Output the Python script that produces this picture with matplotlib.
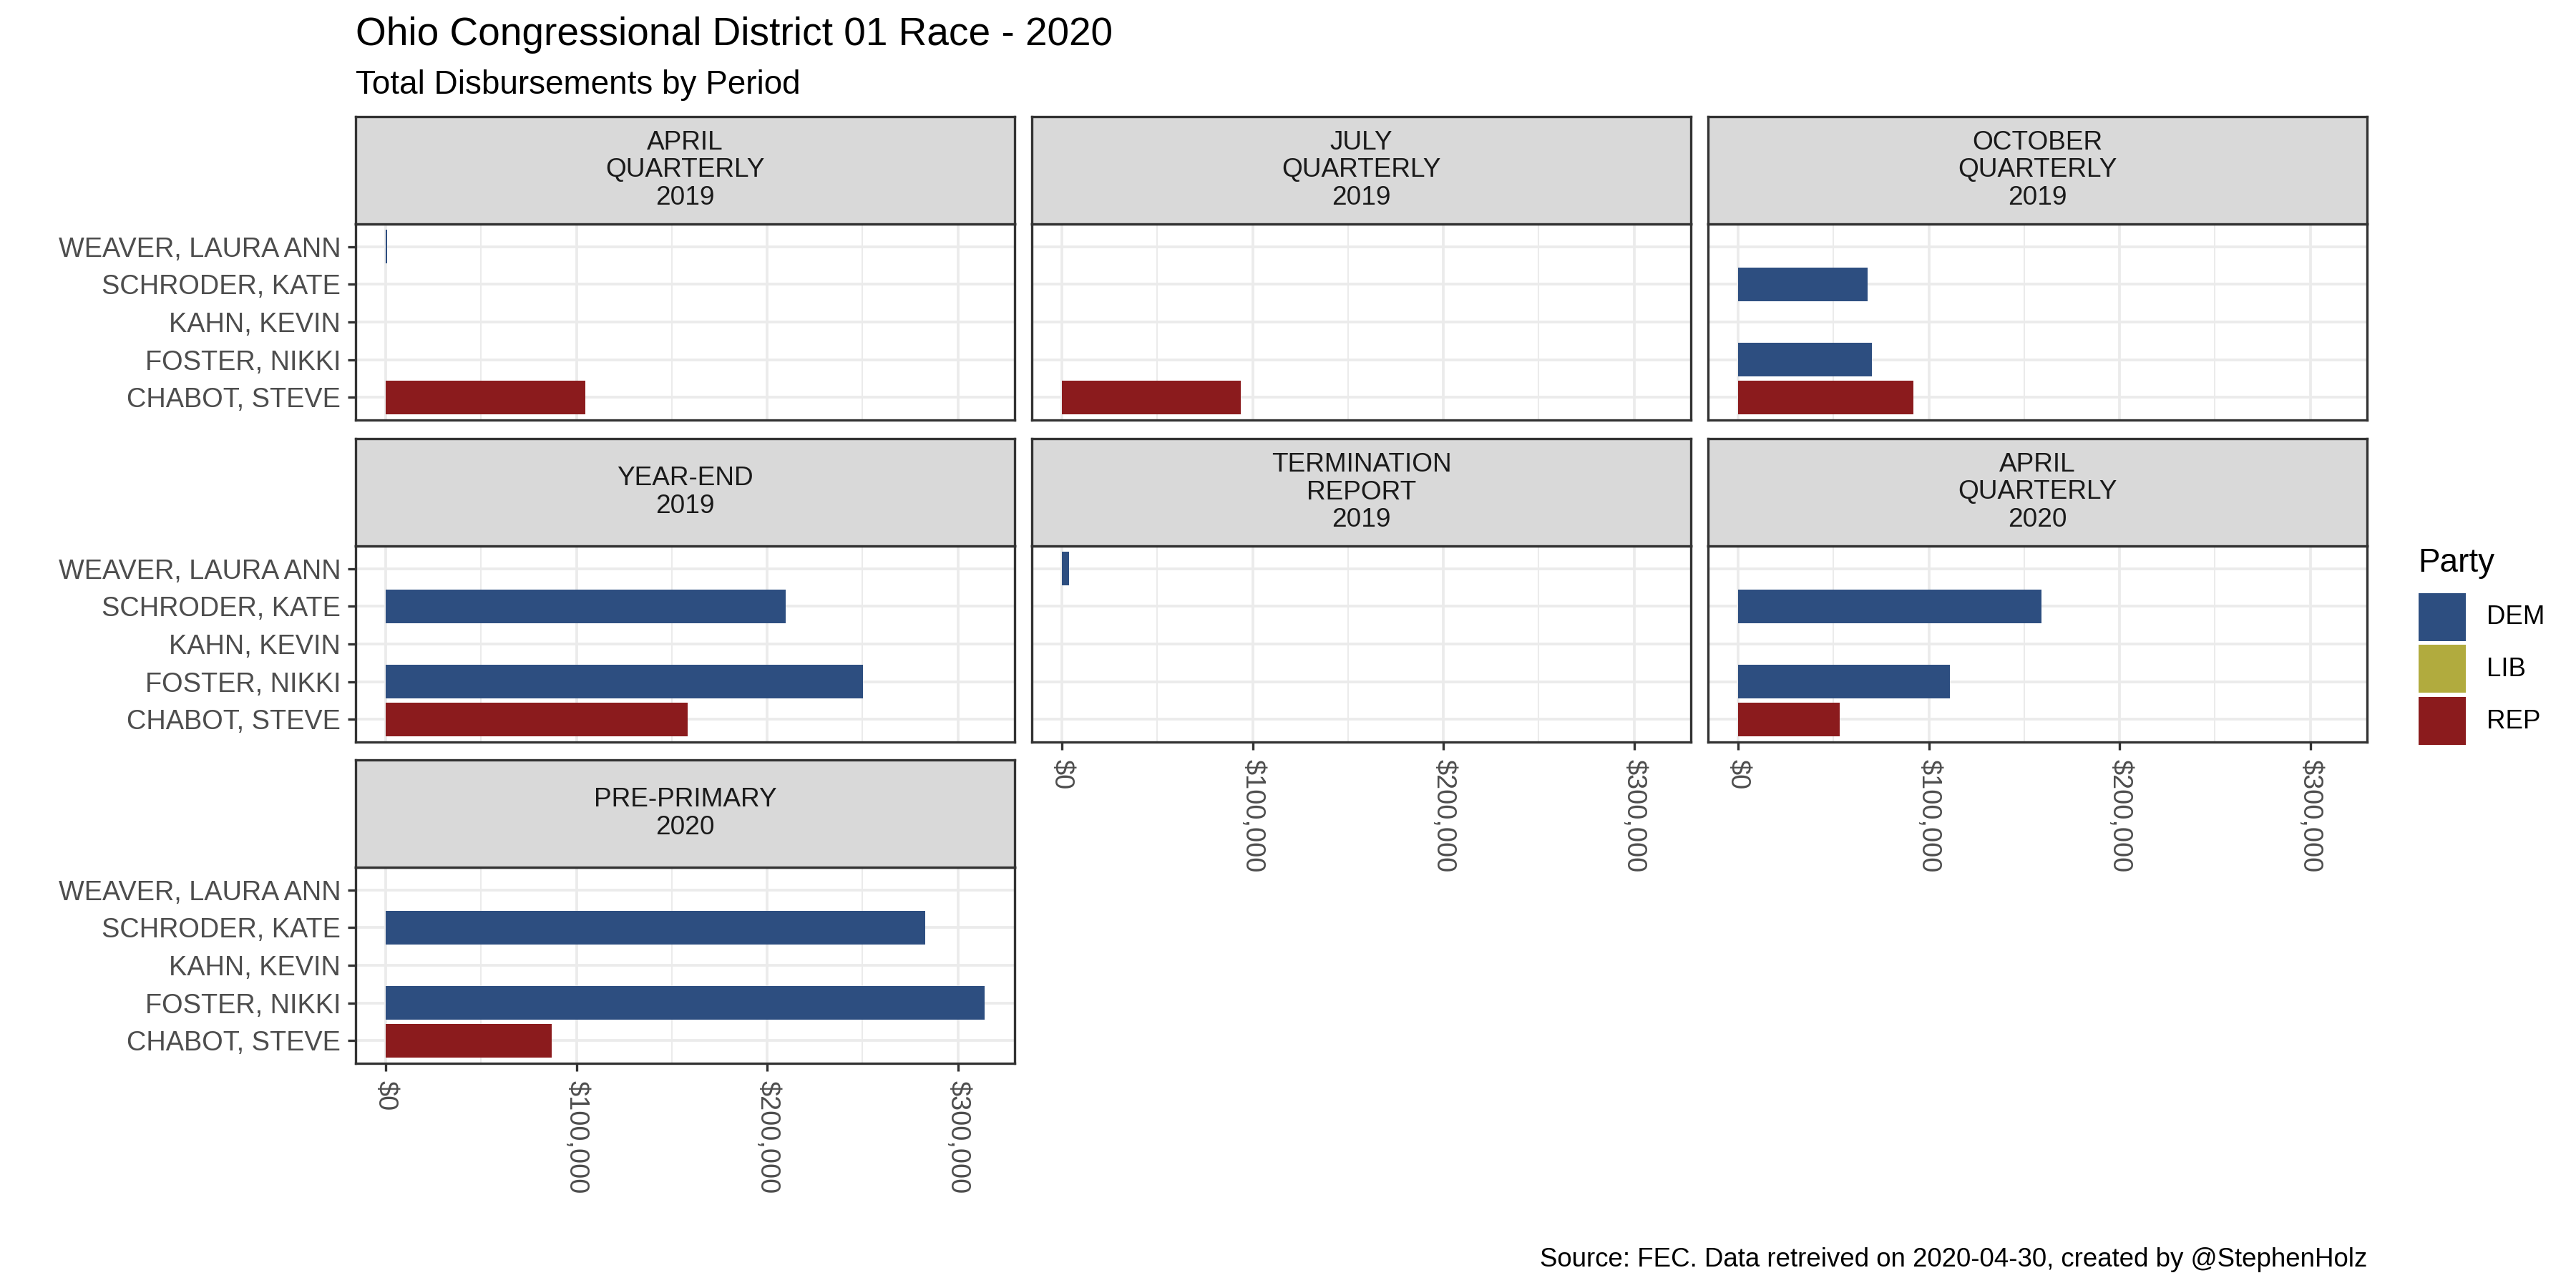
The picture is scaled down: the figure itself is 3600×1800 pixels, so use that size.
import numpy as np
import matplotlib
matplotlib.use("Agg")
import matplotlib.pyplot as plt
from matplotlib.patches import Rectangle
from matplotlib.ticker import FuncFormatter, FixedLocator

plt.rcParams["font.family"] = ["Liberation Sans", "DejaVu Sans"]

# candidates, bottom to top (ggplot factor order)
CANDIDATES = ["CHABOT, STEVE", "FOSTER, NIKKI", "KAHN, KEVIN", "SCHRODER, KATE", "WEAVER, LAURA ANN"]
CAND_PARTY = ["REP", "DEM", "LIB", "DEM", "DEM"]

PERIODS = ["APRIL\nQUARTERLY\n2019", "JULY\nQUARTERLY\n2019", "OCTOBER\nQUARTERLY\n2019",
           "YEAR-END\n2019", "TERMINATION\nREPORT\n2019", "APRIL\nQUARTERLY\n2020",
           "PRE-PRIMARY\n2020"]

# total disbursements per period in $ (nan = nothing filed)
nan = np.nan
CHABOT = [104500, 93700, 92000, 158200, nan, 53300, 87200]
FOSTER = [nan, nan, 70300, 250200, nan, 111000, 314000]
KAHN = [nan, nan, nan, nan, nan, nan, nan]
SCHRODER = [nan, nan, 68000, 209800, nan, 159000, 282900]
WEAVER = [750, nan, nan, nan, 3700, nan, nan]

PARTIES = ["DEM", "LIB", "REP"]
PARTY_COLORS = ["#2D4E80", "#B1AB3E", "#8B1B1D"]

X_BREAKS = [0, 100000, 200000, 300000]
X_MINOR = [50000, 150000, 250000]

values = np.array([CHABOT, FOSTER, KAHN, SCHRODER, WEAVER], dtype=float)
pcol = dict(zip(PARTIES, PARTY_COLORS))

W, H = 3600, 1800
fig = plt.figure(figsize=(12, 6), dpi=300)

EDGE = "#333333"
GRID = "#EBEBEB"
col_left = [497, 1442, 2387]
strip_top = [163, 613, 1062]
pw, sh, ph = 921, 150, 274

xmax = np.nanmax(values)
pad = 0.05 * xmax
ncol = 3
nper = len(PERIODS)
money = FuncFormatter(lambda v, _: f"${v:,.0f}")

for k, period in enumerate(PERIODS):
    r, c = divmod(k, ncol)
    l, t = col_left[c], strip_top[r]
    ax = fig.add_axes([l / W, 1 - (t + sh + ph) / H, pw / W, ph / H])
    sax = fig.add_axes([l / W, 1 - (t + sh) / H, pw / W, sh / H])

    # strip
    sax.set_facecolor("#D9D9D9")
    sax.set_xticks([]); sax.set_yticks([])
    for s in sax.spines.values():
        s.set_color(EDGE); s.set_linewidth(0.8)
    sax.text(0.5, 0.5, period, ha="center", va="center", fontsize=8.9,
             color="#1A1A1A", linespacing=1.12, transform=sax.transAxes)

    # panel
    y = np.arange(len(CANDIDATES))
    cols = [pcol[p] for p in CAND_PARTY]
    vals = values[:, k]
    ok = ~np.isnan(vals)
    ax.barh(y[ok], vals[ok], height=0.9, color=np.array(cols)[ok], zorder=2)
    ax.set_xlim(-pad, xmax + pad)
    ax.set_ylim(-0.6, len(CANDIDATES) - 0.4)
    ax.xaxis.set_major_locator(FixedLocator(X_BREAKS))
    ax.xaxis.set_minor_locator(FixedLocator(X_MINOR))
    ax.xaxis.set_major_formatter(money)
    ax.set_yticks(y)
    ax.set_yticklabels(CANDIDATES)
    ax.grid(which="major", color=GRID, lw=0.9, zorder=0)
    ax.grid(which="minor", axis="x", color=GRID, lw=0.5, zorder=0)
    ax.set_axisbelow(True)
    for s in ax.spines.values():
        s.set_color(EDGE); s.set_linewidth(0.8); s.set_zorder(3)

    ax.tick_params(which="minor", length=0)
    ax.tick_params(which="major", length=2.75, width=0.8, color=EDGE,
                   labelsize=9.1, labelcolor="#4D4D4D")
    ax.tick_params(axis="y", pad=2.2)
    ax.tick_params(axis="x", pad=2.9)
    if c != 0:
        ax.tick_params(axis="y", left=False, labelleft=False)
    bottom_most = k + ncol >= nper
    if bottom_most:
        for lab in ax.get_xticklabels():
            lab.set_rotation(270)
            lab.set_va("top")
            lab.set_ha("center")
    else:
        ax.tick_params(axis="x", bottom=False, labelbottom=False)

# titles
fig.text(497 / W, 1 - 63 / H, "Ohio Congressional District 01 Race - 2020",
         fontsize=13.2, va="baseline", ha="left")
fig.text(497 / W, 1 - 131 / H, "Total Disbursements by Period",
         fontsize=11, va="baseline", ha="left")
fig.text(3308 / W, 1 - 1770 / H,
         "Source: FEC. Data retreived on 2020-04-30, created by @StephenHolz",
         fontsize=8.8, va="baseline", ha="right")

# legend
fig.text(3379 / W, 1 - 799 / H, "Party", fontsize=11, va="baseline", ha="left")
key_top = 829
for i, (p, colr) in enumerate(zip(PARTIES, PARTY_COLORS)):
    top = key_top + i * 72.5
    fig.patches.append(Rectangle((3380 / W, 1 - (top + 67) / H), 66 / W, 67 / H,
                                 transform=fig.transFigure, facecolor=colr,
                                 edgecolor="none"))
    fig.text(3475 / W, 1 - (top + 34) / H, p, fontsize=8.8, va="center", ha="left")

fig.savefig("out.png", dpi=300, facecolor="white")
